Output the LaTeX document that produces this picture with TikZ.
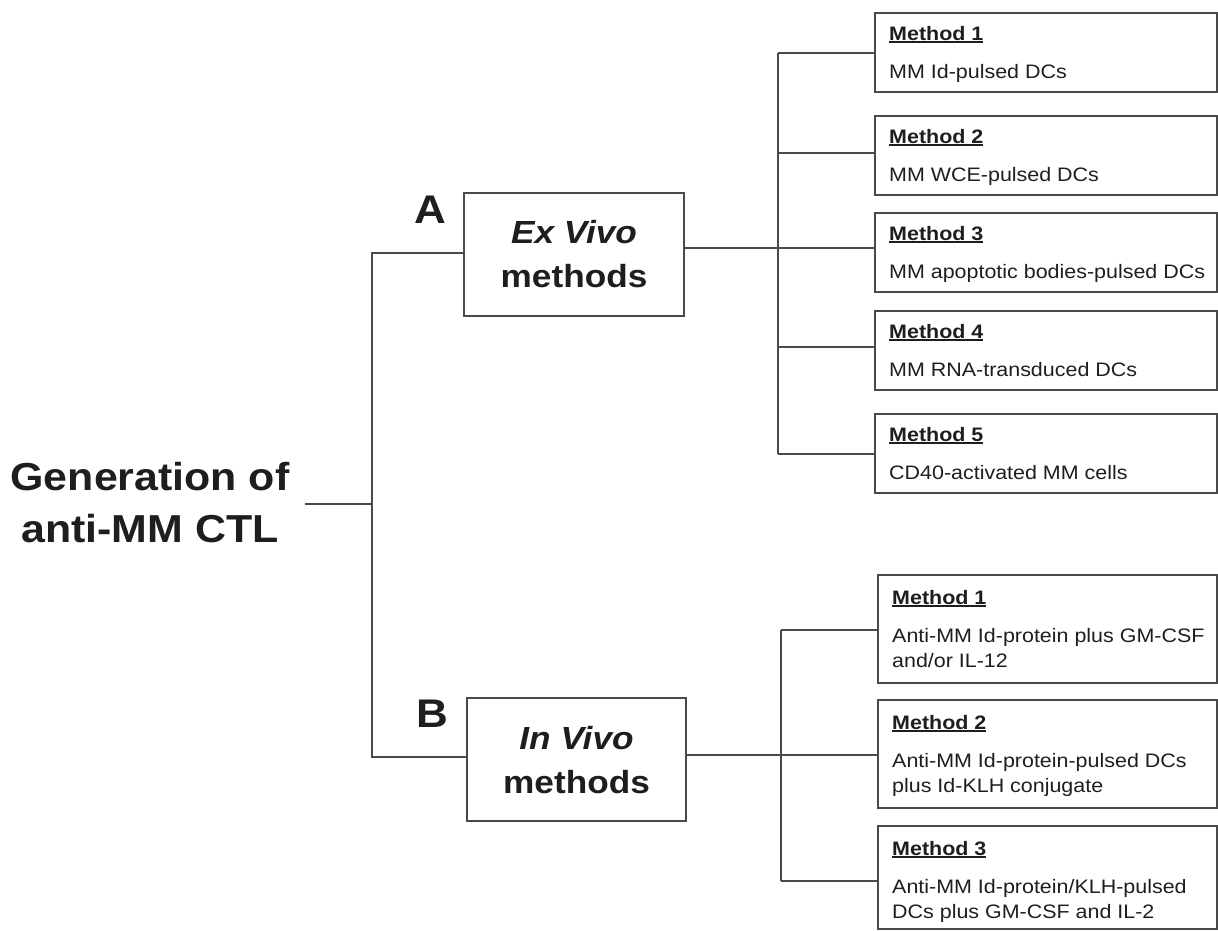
\documentclass[tikz,border=0pt]{standalone}
\usepackage{fontspec}
\setmainfont{Liberation Sans}[FakeStretch=1.1]
\definecolor{ink}{HTML}{1E1E1E}
\definecolor{linec}{HTML}{4A4A4A}
\newcommand\mhead[1]{\setbox0\hbox{#1}\rlap{\color{ink}\rule[-2.6pt]{\wd0}{1.6pt}}\box0}
\tikzset{
 conn/.style={draw=linec, line width=1.8pt},
 bigbox/.style={draw=linec, line width=2pt, anchor=north west, minimum width=220pt, minimum height=123pt, inner sep=0pt},
 mbox/.style={draw=linec, line width=2pt, anchor=north west, inner sep=0pt},
 txt/.style={inner sep=0pt, text=ink, anchor=base west, font=\fontsize{19.5}{24}\selectfont},
 headtxt/.style={inner sep=0pt, text=ink, anchor=base west, font=\fontsize{19.5}{24}\selectfont\bfseries},
 boxtxt/.style={inner sep=0pt, text=ink, anchor=base, font=\fontsize{32}{40}\selectfont\bfseries},
 lettertxt/.style={inner sep=0pt, text=ink, anchor=base, font=\fontsize{40}{48}\selectfont\bfseries},
 titletxt/.style={inner sep=0pt, text=ink, anchor=base, font=\fontsize{39}{48}\selectfont\bfseries},
}
\begin{document}
\begin{tikzpicture}[x=1pt,y=-1pt]
\useasboundingbox (0,0) rectangle (1218,930);

% title
\node[titletxt] (gen1) at (150,490) {Generation of};
\node[titletxt] (gen2) at (150,542) {anti-MM CTL};
\coordinate (g0) at (305,504);
\coordinate (j0) at (372,504);
\coordinate (jA) at (372,253);
\coordinate (jB) at (372,757);

% main boxes
\node[bigbox] (exbox) at (463,192) {};
\node[boxtxt] (ex1) at ([yshift=-51pt]exbox.north) {\itshape Ex Vivo};
\node[boxtxt] (ex2) at ([yshift=-95pt]exbox.north) {methods};
\node[lettertxt] (labA) at (430,223) {A};

\node[bigbox, minimum width=219pt] (inbox) at (466,697) {};
\node[boxtxt] (in1) at ([yshift=-52pt]inbox.north) {\itshape In Vivo};
\node[boxtxt] (in2) at ([yshift=-96pt]inbox.north) {methods};
\node[lettertxt] (labB) at (432,727) {B};

\draw[conn] (g0) -- (j0);
\draw[conn] (exbox.west |- jA) -- (jA) -- (jB) -- (inbox.west |- jB);

% ex vivo methods
\foreach \i/\y/\cy/\body in {1/12/53/{MM Id-pulsed DCs},
                             2/115/153/{MM WCE-pulsed DCs},
                             3/212/248/{MM apoptotic bodies-pulsed DCs},
                             4/310/347/{MM RNA-transduced DCs},
                             5/413/454/{CD40-activated MM cells}} {
  \node[mbox, minimum width=342pt, minimum height=79pt] (e\i) at (874,\y) {};
  \node[headtxt] (e\i h) at ([xshift=15pt,yshift=-28pt]e\i.north west) {\mhead{Method \i}};
  \node[txt] (e\i b) at ([xshift=15pt,yshift=-66pt]e\i.north west) {\body};
  \coordinate (ev\i) at (778,\cy);
  \draw[conn] (ev\i) -- (e\i.west |- ev\i);
}
\draw[conn] (ev1) -- (ev5);
\draw[conn] (exbox.east |- ev3) -- (ev3);

% in vivo methods
\foreach \i/\y/\h/\cy/\la/\lb in {1/574/108/630/{Anti-MM Id-protein plus GM-CSF}/{and/or IL-12},
                                   2/699/108/755/{Anti-MM Id-protein-pulsed DCs}/{plus Id-KLH conjugate},
                                   3/825/103/881/{Anti-MM Id-protein/KLH-pulsed}/{DCs plus GM-CSF and IL-2}} {
  \node[mbox, minimum width=339pt, minimum height=\h pt] (i\i) at (877,\y) {};
  \node[headtxt] (i\i h) at ([xshift=15pt,yshift=-30pt]i\i.north west) {\mhead{Method \i}};
  \node[txt] (i\i a) at ([xshift=15pt,yshift=-68pt]i\i.north west) {\la};
  \node[txt] (i\i b) at ([xshift=15pt,yshift=-93pt]i\i.north west) {\lb};
  \coordinate (iv\i) at (781,\cy);
  \draw[conn] (iv\i) -- (i\i.west |- iv\i);
}
\draw[conn] (iv1) -- (iv3);
\draw[conn] (inbox.east |- iv2) -- (iv2);
\end{tikzpicture}
\end{document}
